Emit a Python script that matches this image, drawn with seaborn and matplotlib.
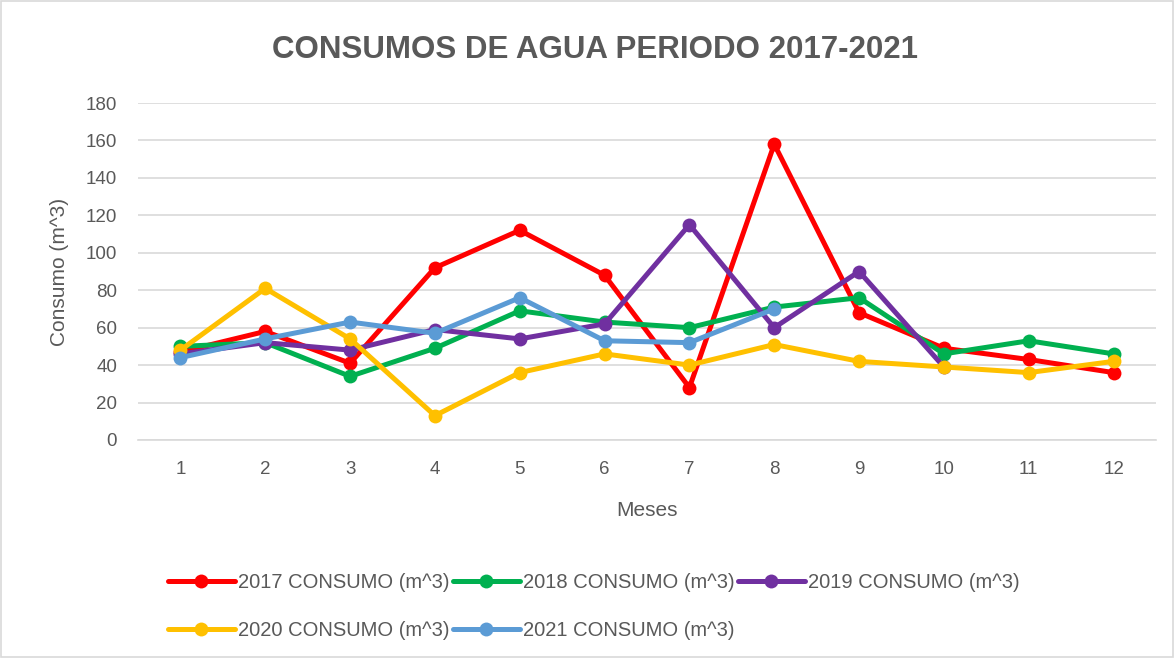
import numpy as np
import pandas as pd
import matplotlib
matplotlib.use("Agg")
import matplotlib.pyplot as plt
import seaborn as sns

meses = list(range(1, 13))
c2017 = [47, 58, 41, 92, 112, 88, 28, 158, 68, 49, 43, 36]
c2018 = [50, 52, 34, 49, 69, 63, 60, 71, 76, 46, 53, 46]
c2019 = [46, 52, 48, 59, 54, 62, 115, 60, 90, 39, np.nan, np.nan]
c2020 = [48, 81, 54, 13, 36, 46, 40, 51, 42, 39, 36, 42]
c2021 = [44, 54, 63, 57, 76, 53, 52, 70, np.nan, np.nan, np.nan, np.nan]

series = {
    "2017 CONSUMO (m^3)": c2017,
    "2018 CONSUMO (m^3)": c2018,
    "2019 CONSUMO (m^3)": c2019,
    "2020 CONSUMO (m^3)": c2020,
    "2021 CONSUMO (m^3)": c2021,
}
colores = ["#FF0000", "#00B050", "#7030A0", "#FFC000", "#5B9BD5"]

filas = []
for nombre, valores in series.items():
    for m, v in zip(meses, valores):
        filas.append({"mes": m, "consumo": v, "serie": nombre})
df = pd.DataFrame(filas).dropna()

sns.set_theme(style="white")
plt.rcParams["font.family"] = ["Liberation Sans", "DejaVu Sans"]

fig = plt.figure(figsize=(11.74, 6.58), dpi=100)
ax = fig.add_axes([138 / 1174, 1 - 440 / 658, (1156 - 138) / 1174, (440 - 103) / 658])

sns.lineplot(data=df, x="mes", y="consumo", hue="serie", palette=colores,
             marker="o", markersize=10, linewidth=3.6, markeredgewidth=0,
             ax=ax, legend=True)

ax.set_xlim(0.5, 12.5)
ax.set_ylim(0, 180)
ax.set_yticks(range(0, 181, 20))
ax.set_xticks(meses)
ax.yaxis.grid(True, color="#D9D9D9", linewidth=1.2)
ax.set_axisbelow(True)
for lado in ["top", "right", "left"]:
    ax.spines[lado].set_visible(False)
ax.spines["bottom"].set_color("#D9D9D9")
ax.spines["bottom"].set_linewidth(1.2)
ax.tick_params(axis="both", length=0, labelsize=13.5, colors="#595959", pad=15)

ax.set_xlabel("Meses", fontsize=15, color="#595959", labelpad=17)
ax.set_ylabel("Consumo (m^3)", fontsize=15, color="#595959", labelpad=12)

fig.text(595 / 1174, 1 - 50 / 658, "CONSUMOS DE AGUA PERIODO 2017-2021",
         ha="center", va="center", fontsize=22.5, fontweight="bold", color="#595959")

# orden por filas: 2017, 2018, 2019 / 2020, 2021
handles, labels = ax.get_legend_handles_labels()
orden = [0, 3, 1, 4, 2]
ax.get_legend().remove()
fig.legend([handles[i] for i in orden], [labels[i] for i in orden],
           loc="upper left", bbox_to_anchor=(150 / 1174, 1 - 555 / 658),
           ncol=3, frameon=False, fontsize=14.5, labelcolor="#595959",
           handlelength=3.3, handletextpad=0.15, columnspacing=0.2, labelspacing=1.45)

fig.patches.append(plt.Rectangle((0.001, 0.001), 0.998, 0.997, transform=fig.transFigure,
                                 fill=False, edgecolor="#D9D9D9", linewidth=1.2))

fig.savefig("out.png", dpi=100)
